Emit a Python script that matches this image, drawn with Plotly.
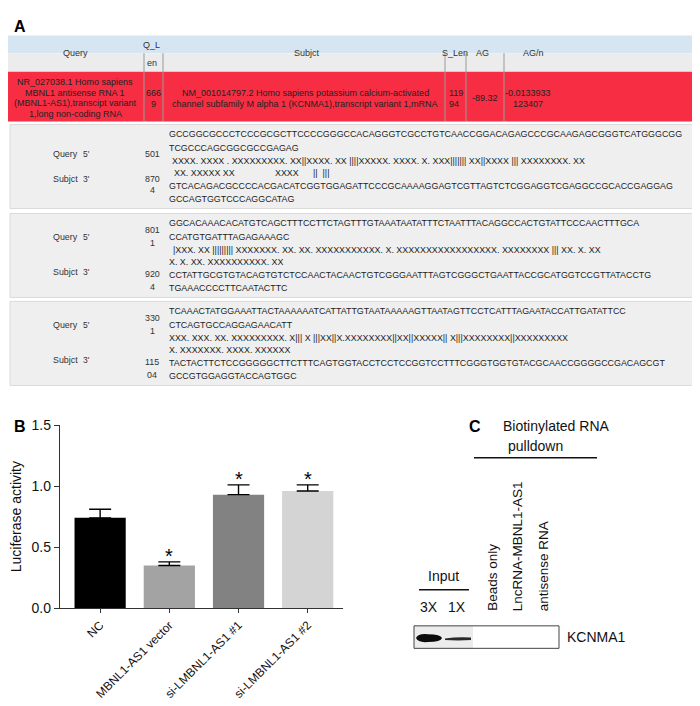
import plotly.graph_objects as go

W, H = 700, 706
FONT = "Liberation Sans, Arial, sans-serif"

# ---------------- Panel B data ----------------
categories = ["NC", "MBNL1-AS1 vector", "si-LMBNL1-AS1 #1", "si-LMBNL1-AS1 #2"]
luciferase = [0.74, 0.35, 0.93, 0.96]
luciferase_err = [0.07, 0.03, 0.08, 0.05]
significance = ["", "*", "*", "*"]
bar_colors = ["#000000", "#a3a3a3", "#828282", "#d4d4d4"]
y_ticks = [0.0, 0.5, 1.0, 1.5]

# ---------------- Panel A data ----------------
header_labels = ["Query", "Q_L", "en", "Subjct", "S_Len", "AG", "AG/n"]
query_desc = ["NR_027038.1 Homo sapiens", "MBNL1 antisense RNA 1",
              "(MBNL1-AS1),transcipt variant", "1,long non-coding RNA"]
query_len = ["666", "9"]
subject_desc = ["NM_001014797.2 Homo sapiens potassium calcium-activated",
                "channel subfamily M alpha 1 (KCNMA1),transcript variant 1,mRNA"]
subject_len = ["119", "94"]
delta_g = "-89.32"
delta_g_n = ["-0.0133933", "123407"]

alignments = [
    {
        "query_pos": ["501"],
        "subject_pos": ["870", "4"],
        "rows": [
            ["GCCGGCGCCCTCCCGCGCTTCCCCGGGCCACAGGGTCGCCTGTCAACCGGACAGAGCCCGCAAGAGCGGGTCATGGGCGG"],
            ["TCGCCCAGCGGCGCCGAGAG"],
            ["XXXX. XXXX . XXXXXXXXX. XX||XXXX. XX ||||XXXXX. XXXX. X. XXX||||||| XX||XXXX ||| XXXXXXXX. XX"],
            ["XX. XXXXX XX", "XXXX", "||  |||"],
            ["GTCACAGACGCCCCACGACATCGGTGGAGATTCCCGCAAAAGGAGTCGTTAGTCTCGGAGGTCGAGGCCGCACCGAGGAG"],
            ["GCCAGTGGTCCCAGGCATAG"],
        ],
    },
    {
        "query_pos": ["801", "1"],
        "subject_pos": ["920", "4"],
        "rows": [
            ["GGCACAAACACATGTCAGCTTTCCTTCTAGTTTGTAAATAATATTTCTAATTTACAGGCCACTGTATTCCCAACTTTGCA"],
            ["CCATGTGATTTAGAGAAAGC"],
            ["|XXX. XX ||||||||| XXXXXXX. XX. XX. XXXXXXXXXXX. X. XXXXXXXXXXXXXXXXX. XXXXXXXX ||| XX. X. XX"],
            ["X. X. XX. XXXXXXXXXX. XX"],
            ["CCTATTGCGTGTACAGTGTCTCCAACTACAACTGTCGGGAATTTAGTCGGGCTGAATTACCGCATGGTCCGTTATACCTG"],
            ["TGAAACCCCTTCAATACTTC"],
        ],
    },
    {
        "query_pos": ["330", "1"],
        "subject_pos": ["115", "04"],
        "rows": [
            ["TCAAACTATGGAAATTACTAAAAAATCATTATTGTAATAAAAAGTTAATAGTTCCTCATTTAGAATACCATTGATATTCC"],
            ["CTCAGTGCCAGGAGAACATT"],
            ["XXX. XXX. XX. XXXXXXXXX. X||| X |||XX||X.XXXXXXXX||XX||XXXXX|| X|||XXXXXXXX||XXXXXXXXX"],
            ["X. XXXXXXX. XXXX. XXXXXX"],
            ["TACTACTTCTCCGGGGGCTTCTTTCAGTGGTACCTCCTCCGGTCCTTTCGGGTGGTGTACGCAACCGGGGCCGACAGCGT"],
            ["GCCGTGGAGGTACCAGTGGC"],
        ],
    },
]

# ---------------- Panel C data ----------------
pulldown_lanes = ["Beads only", "LncRNA-MBNL1-AS1", "antisense RNA"]
input_lanes = ["3X", "1X"]
blot_target = "KCNMA1"


def px(x):
    return x / W


def py(y):
    return 1 - y / H


annotations = []
shapes = []


def T(x, y, text, size=9, xa="center", ya="middle", color="#222", angle=0, bold=False):
    annotations.append(dict(
        x=px(x), y=py(y), xref="paper", yref="paper", text=("<b>%s</b>" % text) if bold else text,
        showarrow=False, xanchor=xa, yanchor=ya, textangle=angle,
        font=dict(family=FONT, size=size, color=color), borderpad=0,
    ))


def R(x0, y0, x1, y1, fill, line=None, lw=1):
    shapes.append(dict(type="rect", xref="paper", yref="paper",
                       x0=px(x0), y0=py(y0), x1=px(x1), y1=py(y1),
                       fillcolor=fill, line=dict(color=line or fill, width=lw if line else 0),
                       layer="below"))


def L(x0, y0, x1, y1, color="#999", lw=1, layer="above"):
    shapes.append(dict(type="line", xref="paper", yref="paper",
                       x0=px(x0), y0=py(y0), x1=px(x1), y1=py(y1),
                       line=dict(color=color, width=lw), layer=layer))


# ---------------- Panel A ----------------
T(12, 11, "A", size=16, bold=True, color="#000")
R(0, 20, 700, 38, "#d5e5f1")
R(0, 38, 700, 57, "#ececec")
R(0, 57, 700, 108, "#f72e43")
for xv in [136, 155, 437, 458, 496]:
    L(xv, 38, xv, 108, color="#9a9a9a", lw=1)

TB = 9
hx = [67, 143, 144, 299, 447, 474, 525]
hy = [38, 30, 48, 38, 38, 38, 38]
for lab, xv, yv in zip(header_labels, hx, hy):
    T(xv, yv, lab, size=TB, color="#333")

for i, line in enumerate(query_desc):
    T(67, 68 + i * 10.6, line, size=TB)
for i, line in enumerate(query_len):
    T(145, 79 + i * 10.6, line, size=TB)
for i, line in enumerate(subject_desc):
    T(297, 79 + i * 10.6, line, size=TB)
for i, line in enumerate(subject_len):
    T(440, 79 + i * 10.6, line, size=TB, xa="left")
T(477, 84, delta_g, size=TB)
for i, line in enumerate(delta_g_n):
    T(520, 79 + i * 10.6, line, size=TB)

SEQ = 8.9
box_tops = [111, 202, 292]
row_off = [10, 24, 37, 50, 63, 76]
seg_x = [0, 101, 139]
for b, (al, top) in enumerate(zip(alignments, box_tops)):
    R(2, top, 698, top + 86, "#efefef", line="#dadada", lw=1)
    for r, segs in enumerate(al["rows"]):
        yv = top + row_off[r]
        if len(segs) == 1:
            xoff = 3 if r in (2, 3) and b == 0 else (4 if r == 2 and b == 1 else 0)
            T(160 + xoff, yv, segs[0], size=SEQ, xa="left")
        else:
            for s, off in zip(segs, seg_x):
                T(165 + off, yv, s, size=SEQ, xa="left")
    # left labels
    q_y = top + (30 if b == 0 else 24)
    s_y = top + (56 if b == 0 else 60)
    T(44, q_y, "Query", size=SEQ, xa="left", color="#333")
    T(74, q_y, "5'", size=8.5, xa="left", color="#333")
    T(44, s_y, "Subjct", size=SEQ, xa="left", color="#333")
    T(74, s_y, "3'", size=8.5, xa="left", color="#333")
    # position numbers
    if len(al["query_pos"]) == 1:
        T(144, top + 30, al["query_pos"][0], size=SEQ, color="#333")
    else:
        T(144, top + 17, al["query_pos"][0], size=SEQ, color="#333")
        T(144, top + 30, al["query_pos"][1], size=SEQ, color="#333")
    sp_y = [top + 56, top + 67] if b == 0 else [top + 62, top + 75]
    T(144, sp_y[0], al["subject_pos"][0], size=SEQ, color="#333")
    T(144, sp_y[1], al["subject_pos"][1], size=SEQ, color="#333")
    # right ends
    T(686, top + 30, "3'", size=8.5, xa="left", color="#333")
    T(686, top + 56, "5'", size=8.5, xa="left", color="#333")

# ---------------- Panel B ----------------
T(12, 420, "B", size=16, bold=True, color="#000")

fig = go.Figure()
fig.add_trace(go.Bar(
    x=categories, y=luciferase, marker=dict(color=bar_colors, line=dict(width=0)),
    width=0.74,
    error_y=dict(type="data", array=luciferase_err, arrayminus=[0] * 4, symmetric=False,
                 color="#000", thickness=1.4, width=11),
    showlegend=False, hoverinfo="skip",
))
for c, m, e, s in zip(categories, luciferase, luciferase_err, significance):
    if s:
        annotations.append(dict(x=c, y=m + e, xref="x", yref="y", text=s, showarrow=False,
                                yanchor="bottom", yshift=-7,
                                font=dict(family=FONT, size=20, color="#000")))

# ---------------- Panel C ----------------
T(467, 420, "C", size=16, bold=True, color="#000")
T(548, 420, "Biotinylated RNA", size=14, color="#111")
T(527, 440, "pulldown", size=14, color="#111")
L(466, 452, 589, 452, color="#111", lw=1.6)
for lab, xv in zip(pulldown_lanes, [485, 509, 535]):
    T(xv, 610, lab, size=13.5, angle=-90, ya="bottom", color="#111")
T(435, 573, "Input", size=14, color="#111")
L(411, 587, 461, 587, color="#111", lw=1.6)
for lab, xv in zip(input_lanes, [421, 449]):
    T(xv, 605, lab, size=14, color="#111")
# blot
R(406, 624, 465, 647, "#ececec")
shapes.append(dict(type="path", xref="paper", yref="paper",
                   path="M %f %f Q %f %f %f %f Q %f %f %f %f Q %f %f %f %f Q %f %f %f %f Z" % (
                       px(408), py(636.5), px(410), py(631.5), px(420), py(632.5),
                       px(433), py(632.5), px(434), py(636.5),
                       px(433), py(640.5), px(420), py(640.5),
                       px(410), py(641.5), px(408), py(636.5)),
                   fillcolor="#0c0c0c", line=dict(width=0), layer="above"))
shapes.append(dict(type="path", xref="paper", yref="paper",
                   path="M %f %f Q %f %f %f %f L %f %f Q %f %f %f %f Z" % (
                       px(437), py(637), px(450), py(635), px(463), py(636),
                       px(463), py(638.5), px(450), py(639.5), px(437), py(638.5)),
                   fillcolor="#2a2a2a", line=dict(width=0), layer="above"))
shapes.append(dict(type="rect", xref="paper", yref="paper",
                   x0=px(406), y0=py(624), x1=px(551), y1=py(647),
                   fillcolor="rgba(0,0,0,0)", line=dict(color="#444", width=1), layer="above"))
T(558, 635, blot_target, size=14, xa="left", color="#111")

x0d, x1d = 52, 335
y0d, y1d = 606, 418.5
fig.update_layout(
    width=W, height=H, margin=dict(l=0, r=0, t=0, b=0),
    paper_bgcolor="white", plot_bgcolor="white",
    annotations=annotations, shapes=shapes, showlegend=False,
    xaxis=dict(domain=[px(x0d), px(x1d)], type="category", range=[-0.58, 3.51],
               showline=True, linecolor="#333", linewidth=1.3, ticks="outside", ticklen=4,
               tickwidth=1.3, tickcolor="#333", tickangle=-45, showgrid=False, zeroline=False,
               tickfont=dict(family=FONT, size=12, color="#111"), fixedrange=True),
    yaxis=dict(domain=[py(y0d), py(y1d)], range=[0, 1.5], tickvals=y_ticks,
               tickformat=".1f", showline=True, linecolor="#333", linewidth=1.3,
               ticks="outside", ticklen=5, tickwidth=1.3, tickcolor="#333",
               showgrid=False, zeroline=False,
               tickfont=dict(family=FONT, size=14, color="#111"),
               title=dict(text="Luciferase activity", font=dict(family=FONT, size=14, color="#111"),
                          standoff=8), fixedrange=True),
)
fig.write_html("out.html")
